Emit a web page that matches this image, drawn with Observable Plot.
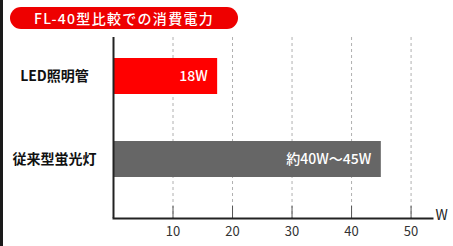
<!DOCTYPE html>
<html><head><meta charset="utf-8">
<script src="https://cdn.jsdelivr.net/npm/d3@7"></script>
<script src="https://cdn.jsdelivr.net/npm/@observablehq/plot@0.6"></script>
<style>
body{margin:0;background:#fff;font-family:"Noto Sans CJK JP","Noto Sans",sans-serif;}
#wrap{position:relative;width:453px;height:246px;overflow:hidden;}
#edge{position:absolute;left:0;top:0;width:3px;height:246px;background:#1a1a1a;}
#title{position:absolute;left:10px;top:7px;width:228px;height:22px;border-radius:11px;background:#ee0000;color:#fff;
font-size:14px;font-weight:500;letter-spacing:1.3px;line-height:22px;text-align:center;}
</style></head>
<body><div id="wrap"><div id="edge"></div><div id="title">FL-40型比較での消費電力</div></div>
<script>
const categories = ["LED照明管", "従来型蛍光灯"];
const values = [17.5, 45];
const barLabels = ["18W", "約40W～45W"];
const barColors = ["#ff0000", "#666666"];
const ticks = [10, 20, 30, 40, 50];
const unit = "W";

const data = categories.map((c, i) => ({cat: c, v: values[i], label: barLabels[i], color: barColors[i]}));
const font = '"Noto Sans CJK JP","Noto Sans",sans-serif';

const chart = Plot.plot({
  width: 453, height: 246,
  marginLeft: 113, marginRight: 21, marginTop: 37, marginBottom: 28,
  style: {fontFamily: font, background: "transparent", overflow: "visible"},
  x: {domain: [0, 53.6], axis: null, label: null},
  y: {domain: categories, axis: null, paddingInner: 0.566, paddingOuter: 0.373, align: 0.34},
  marks: [
    Plot.gridX(ticks, {stroke: "#b0b0b0", strokeOpacity: 1, strokeDasharray: "3,3"}),
    Plot.axisX(ticks, {label: null, tickSize: -12, stroke: "#555", tickPadding: 20, fontSize: 13, fill: "#333", tickFormat: d => d}),
    Plot.barX(data, {x: "v", y: "cat", fill: "color"}),
    Plot.text(data, {x: "v", y: "cat", text: "label", textAnchor: "end", dx: -10, fill: "#fff", fontSize: 14, fontWeight: 500}),
    Plot.text(categories, {y: d => d, frameAnchor: "left", dx: -59, textAnchor: "middle", fontSize: 14, fontWeight: 700, fill: "#111", letterSpacing: 1}),
    Plot.ruleX([0], {stroke: "#222", strokeWidth: 2}),
    Plot.frame({anchor: "bottom", stroke: "#222", strokeWidth: 2}),
    Plot.text([unit], {frameAnchor: "bottom-right", dx: 3, dy: 1, textAnchor: "start", fontSize: 14, fill: "#222"})
  ]
});
document.getElementById("wrap").prepend(chart);
chart.style.position = "absolute"; chart.style.left = "0"; chart.style.top = "0";
</script></body></html>
